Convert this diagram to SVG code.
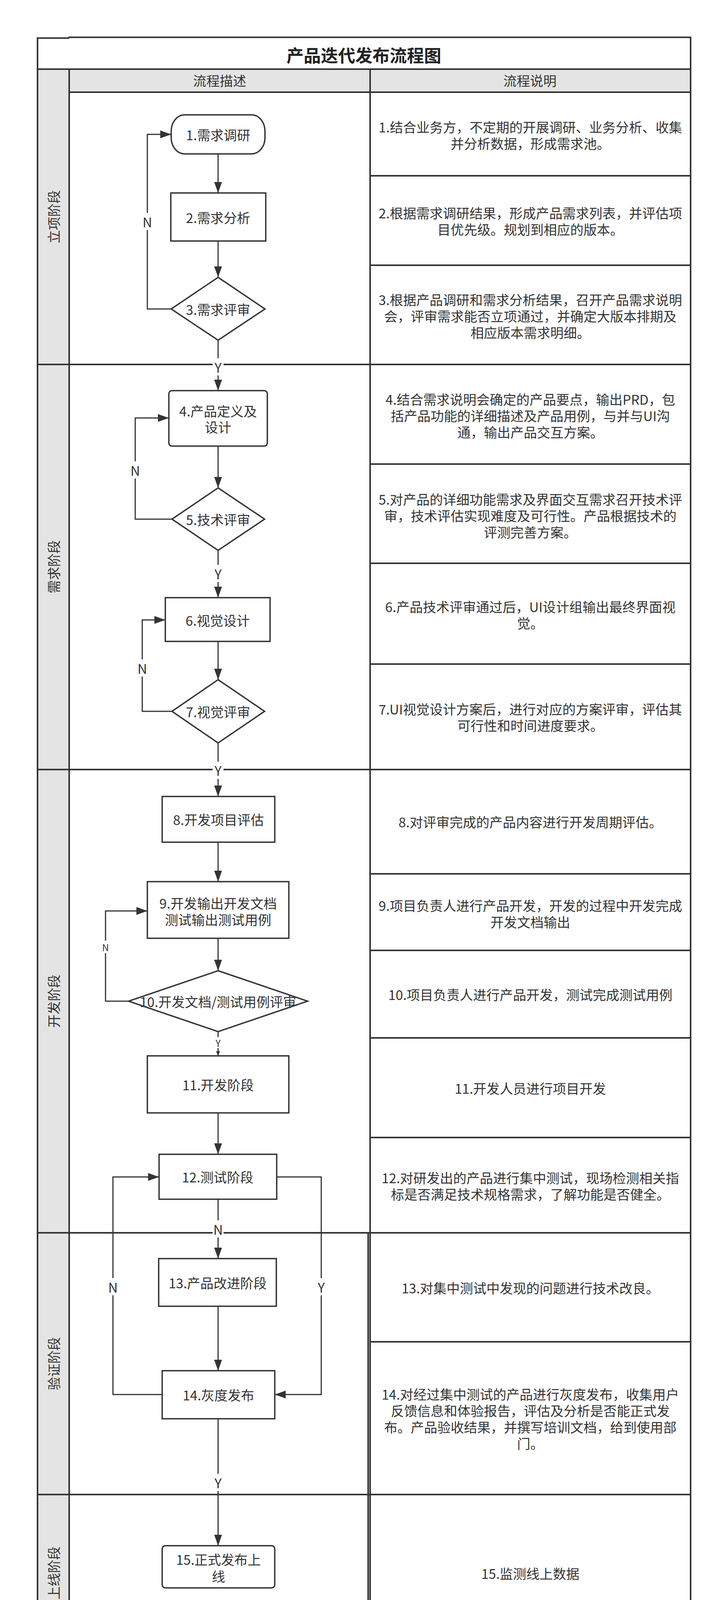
<svg xmlns="http://www.w3.org/2000/svg" width="1832" height="4292" viewBox="0 0 1832 4292">
<defs>
<style>
text{font-family:"Noto Sans CJK SC","Noto Sans",sans-serif;fill:#333;font-size:34px;text-anchor:middle;dominant-baseline:central}
.title{font-size:44px;font-weight:bold;fill:#222}
.tb{stroke:#333;stroke-width:4;fill:none}
.gray{fill:#e4e4e4}
.node{fill:#fff;stroke:#333;stroke-width:3.5}
.c{fill:none;stroke:#333;stroke-width:3}
.lbl{font-size:34px}
.sl{font-size:24px}
.bg{fill:#fff}
</style>
<marker id="ah" markerUnits="userSpaceOnUse" markerWidth="28" markerHeight="20" refX="28" refY="10" orient="auto">
<path d="M0,0 L28,10 L0,20 Z" fill="#333"/>
</marker>
<marker id="ahs" markerUnits="userSpaceOnUse" markerWidth="12" markerHeight="10" refX="12" refY="5" orient="auto">
<path d="M0,0 L12,5 L0,10 Z" fill="#333"/>
</marker>
</defs>
<rect width="1832" height="4292" fill="#fff"/>

<g id="table">
<rect class="gray" x="96" y="177" width="81" height="4051"/>
<rect class="gray" x="177" y="177" width="1590" height="59"/>
<line class="tb" x1="94" y1="97.5" x2="177" y2="97.5"/>
<line class="tb" x1="175" y1="95.5" x2="1769" y2="95.5"/>
<line class="tb" x1="96" y1="96" x2="96" y2="4230"/>
<line class="tb" x1="1767" y1="94" x2="1767" y2="4230"/>
<line class="tb" x1="94" y1="4228" x2="1769" y2="4228"/>
<line class="tb" x1="96" y1="177" x2="1767" y2="177"/>
<line class="tb" x1="177" y1="236" x2="1767" y2="236"/>
<line class="tb" x1="177" y1="177" x2="177" y2="4228"/>
<line class="tb" x1="947" y1="177" x2="947" y2="4228"/>
<line class="tb" x1="942" y1="3156" x2="942" y2="4228"/>
<line class="tb" x1="96" y1="933" x2="1767" y2="933"/>
<line class="tb" x1="96" y1="1970" x2="1767" y2="1970"/>
<line class="tb" x1="96" y1="3156" x2="1767" y2="3156"/>
<line class="tb" x1="96" y1="3826" x2="1767" y2="3826" stroke-width="6"/>
<line class="tb" x1="947" y1="450" x2="1767" y2="450"/>
<line class="tb" x1="947" y1="679" x2="1767" y2="679"/>
<line class="tb" x1="947" y1="1188" x2="1767" y2="1188"/>
<line class="tb" x1="947" y1="1442" x2="1767" y2="1442"/>
<line class="tb" x1="947" y1="1700" x2="1767" y2="1700"/>
<line class="tb" x1="947" y1="2237" x2="1767" y2="2237"/>
<line class="tb" x1="947" y1="2433" x2="1767" y2="2433"/>
<line class="tb" x1="947" y1="2657" x2="1767" y2="2657"/>
<line class="tb" x1="947" y1="2912" x2="1767" y2="2912"/>
<line class="tb" x1="947" y1="3435" x2="1767" y2="3435"/>
<text class="title" x="931" y="140">产品迭代发布流程图</text>
<text x="562" y="205">流程描述</text>
<text x="1356" y="205">流程说明</text>
</g>

<g id="stages">
<text transform="translate(136,555) rotate(-90)">立项阶段</text>
<text transform="translate(136,1451) rotate(-90)">需求阶段</text>
<text transform="translate(136,2563) rotate(-90)">开发阶段</text>
<text transform="translate(136,3491) rotate(-90)">验证阶段</text>
<text transform="translate(136,4027) rotate(-90)">上线阶段</text>
</g>

<g id="descriptions">
<text x="1357" y="324">1.结合业务方，不定期的开展调研、业务分析、收集</text>
<text x="1357" y="366">并分析数据，形成需求池。</text>
<text x="1357" y="544">2.根据需求调研结果，形成产品需求列表，并评估项</text>
<text x="1357" y="586">目优先级。规划到相应的版本。</text>
<text x="1357" y="766">3.根据产品调研和需求分析结果，召开产品需求说明</text>
<text x="1357" y="808">会，评审需求能否立项通过，并确定大版本排期及</text>
<text x="1357" y="850">相应版本需求明细。</text>
<text x="1357" y="1021">4.结合需求说明会确定的产品要点，输出PRD，包</text>
<text x="1357" y="1063">括产品功能的详细描述及产品用例，与并与UI沟</text>
<text x="1357" y="1105">通，输出产品交互方案。</text>
<text x="1357" y="1277">5.对产品的详细功能需求及界面交互需求召开技术评</text>
<text x="1357" y="1319">审，技术评估实现难度及可行性。产品根据技术的</text>
<text x="1357" y="1361">评测完善方案。</text>
<text x="1357" y="1552">6.产品技术评审通过后，UI设计组输出最终界面视</text>
<text x="1357" y="1594">觉。</text>
<text x="1357" y="1814">7.UI视觉设计方案后，进行对应的方案评审，评估其</text>
<text x="1357" y="1856">可行性和时间进度要求。</text>
<text x="1357" y="2103">8.对评审完成的产品内容进行开发周期评估。</text>
<text x="1357" y="2317">9.项目负责人进行产品开发，开发的过程中开发完成</text>
<text x="1357" y="2359">开发文档输出</text>
<text x="1357" y="2545">10.项目负责人进行产品开发，测试完成测试用例</text>
<text x="1357" y="2785">11.开发人员进行项目开发</text>
<text x="1357" y="3014">12.对研发出的产品进行集中测试，现场检测相关指</text>
<text x="1357" y="3056">标是否满足技术规格需求，了解功能是否健全。</text>
<text x="1357" y="3296">13.对集中测试中发现的问题进行技术改良。</text>
<text x="1357" y="3568">14.对经过集中测试的产品进行灰度发布，收集用户</text>
<text x="1357" y="3610">反馈信息和体验报告，评估及分析是否能正式发</text>
<text x="1357" y="3652">布。产品验收结果，并撰写培训文档，给到使用部</text>
<text x="1357" y="3694">门。</text>
<text x="1357" y="4027">15.监测线上数据</text>
</g>

<g id="connectors">
<path class="c" d="M558,394 V494" marker-end="url(#ah)"/>
<path class="c" d="M558,617 V710" marker-end="url(#ah)"/>
<path class="c" d="M438,791 H377 V344 H438" marker-end="url(#ah)"/>
<path class="c" d="M558,871 V1000" marker-end="url(#ah)"/>
<path class="c" d="M558,1142 V1249" marker-end="url(#ah)"/>
<path class="c" d="M440,1329 H346 V1070 H432" marker-end="url(#ah)"/>
<path class="c" d="M558,1409 V1530" marker-end="url(#ah)"/>
<path class="c" d="M558,1642 V1740" marker-end="url(#ah)"/>
<path class="c" d="M440,1821 H364 V1587 H423" marker-end="url(#ah)"/>
<path class="c" d="M558,1902 V2039" marker-end="url(#ah)"/>
<path class="c" d="M558,2156 V2257" marker-end="url(#ah)"/>
<path class="c" d="M558,2402 V2485" marker-end="url(#ah)"/>
<path class="c" d="M329,2563 H270 V2332 H377" marker-end="url(#ah)"/>
<path class="c" d="M558,2641 V2703" marker-end="url(#ahs)"/>
<path class="c" d="M558,2849 V2955" marker-end="url(#ah)"/>
<path class="c" d="M558,3070 V3222" marker-end="url(#ah)"/>
<path class="c" d="M415,3570 H289 V3013 H407" marker-end="url(#ah)"/>
<path class="c" d="M708,3013 H822 V3570 H703" marker-end="url(#ah)"/>
<path class="c" d="M558,3344 V3509" marker-end="url(#ah)"/>
<path class="c" d="M558,3632 V3957" marker-end="url(#ah)"/>
<rect class="bg" x="363" y="545" width="28" height="44"/>
<text class="lbl" x="377" y="567">N</text>
<rect class="bg" x="544" y="917" width="28" height="44"/>
<text class="lbl" x="558" y="939">Y</text>
<rect class="bg" x="332" y="1181" width="28" height="44"/>
<text class="lbl" x="346" y="1203">N</text>
<rect class="bg" x="544" y="1446" width="28" height="44"/>
<text class="lbl" x="558" y="1468">Y</text>
<rect class="bg" x="350" y="1688" width="28" height="44"/>
<text class="lbl" x="364" y="1710">N</text>
<rect class="bg" x="544" y="1950" width="28" height="44"/>
<text class="lbl" x="558" y="1971">Y</text>
<rect class="bg" x="260" y="2408" width="20" height="32"/>
<text class="sl" x="270" y="2424">N</text>
<rect class="bg" x="549" y="2655" width="18" height="28"/>
<text class="sl" x="558" y="2669">Y</text>
<rect class="bg" x="544" y="3124" width="28" height="44"/>
<text class="lbl" x="558" y="3146">N</text>
<rect class="bg" x="275" y="3272" width="28" height="44"/>
<text class="lbl" x="289" y="3294">N</text>
<rect class="bg" x="808" y="3272" width="28" height="44"/>
<text class="lbl" x="822" y="3294">Y</text>
<rect class="bg" x="544" y="3773" width="28" height="44"/>
<text class="lbl" x="558" y="3795">Y</text>
</g>

<g id="n1"><rect class="node" x="438" y="294" width="240" height="100" rx="34" ry="42"/><text x="558" y="344">1.需求调研</text></g>
<g id="n2"><rect class="node" x="437" y="494" width="243" height="123"/><text x="558" y="556">2.需求分析</text></g>
<g id="n3"><polygon class="node" points="558,710 678,791 558,871 438,791"/><text x="558" y="791">3.需求评审</text></g>
<g id="n4"><rect class="node" x="432" y="1000" width="252" height="142" rx="8"/><text x="558" y="1051">4.产品定义及</text><text x="558" y="1092">设计</text></g>
<g id="n5"><polygon class="node" points="558,1249 677,1329 558,1409 440,1329"/><text x="558" y="1329">5.技术评审</text></g>
<g id="n6"><rect class="node" x="423" y="1530" width="268" height="112"/><text x="557" y="1587">6.视觉设计</text></g>
<g id="n7"><polygon class="node" points="558,1740 677,1821 558,1902 440,1821"/><text x="558" y="1821">7.视觉评审</text></g>
<g id="n8"><rect class="node" x="415" y="2039" width="288" height="117"/><text x="559" y="2097">8.开发项目评估</text></g>
<g id="n9"><rect class="node" x="377" y="2257" width="362" height="145"/><text x="558" y="2311">9.开发输出开发文档</text><text x="558" y="2353">测试输出测试用例</text></g>
<g id="n10"><polygon class="node" points="558,2485 787,2563 558,2641 329,2563"/><text x="558" y="2563">10.开发文档/测试用例评审</text></g>
<g id="n11"><rect class="node" x="377" y="2703" width="362" height="146"/><text x="558" y="2776">11.开发阶段</text></g>
<g id="n12"><rect class="node" x="407" y="2955" width="301" height="115"/><text x="557" y="3012">12.测试阶段</text></g>
<g id="n13"><rect class="node" x="406" y="3222" width="301" height="122"/><text x="557" y="3283">13.产品改进阶段</text></g>
<g id="n14"><rect class="node" x="415" y="3509" width="288" height="123"/><text x="559" y="3570">14.灰度发布</text></g>
<g id="n15"><rect class="node" x="415" y="3957" width="288" height="108" rx="8"/><text x="559" y="3991">15.正式发布上</text><text x="559" y="4034">线</text></g>
</svg>
